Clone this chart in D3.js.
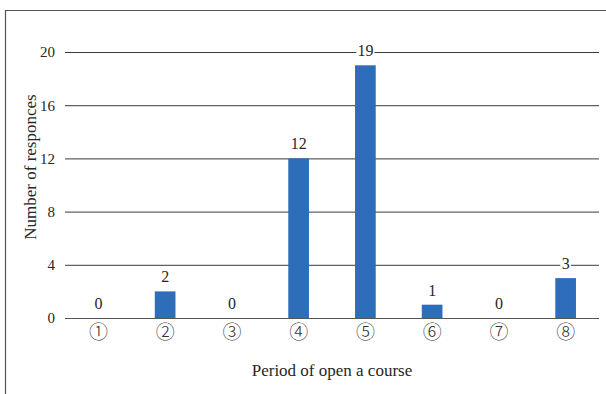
<!DOCTYPE html>
<html>
<head>
<meta charset="utf-8">
<script src="https://cdn.jsdelivr.net/npm/d3@7"></script>
<style>
  html, body { margin: 0; padding: 0; background: #fff; }
  svg { display: block; }
  text { font-family: "Liberation Serif", "Times New Roman", serif; fill: #262626; }
</style>
</head>
<body>
<svg id="chart" width="606" height="394"></svg>
<script>
// Survey: when respondents would open a course
const categories = ["①", "②", "③", "④", "⑤", "⑥", "⑦", "⑧"];
const responses = [0, 2, 0, 12, 19, 1, 0, 3];
const yTicks = [0, 4, 8, 12, 16, 20];
const yTitle = "Number of responces";
const xTitle = "Period of open a course";

const serif = "'Liberation Serif', 'Times New Roman', serif";
const circFont = "'Noto Sans CJK JP', 'DejaVu Sans', sans-serif";

const svg = d3.select("#chart");
const W = 606, H = 394;
const margin = { left: 65, right: 7, top: 52, bottom: 76 };

// outer frame (top and left edges)
svg.append("path")
  .attr("d", `M5.5,${H} V10.5 H${W}`)
  .attr("fill", "none")
  .attr("stroke", "#555")
  .attr("stroke-width", 1.2);

const x = d3.scaleBand()
  .domain(categories)
  .range([margin.left, W - margin.right])
  .paddingInner(0.69)
  .paddingOuter(0.345);

const y = d3.scaleLinear()
  .domain([0, 20])
  .range([H - margin.bottom, margin.top]);

// horizontal gridlines with value labels
const yAxis = d3.axisLeft(y)
  .tickValues(yTicks)
  .tickSize(-(W - margin.right - margin.left))
  .tickPadding(10)
  .tickFormat(d3.format("d"));

const gy = svg.append("g")
  .attr("transform", `translate(${margin.left},0)`)
  .call(yAxis);
gy.select(".domain").remove();
gy.selectAll(".tick line").attr("stroke", "#3a3a3a").attr("stroke-width", 1);
gy.selectAll(".tick text")
  .style("font-family", serif)
  .style("font-size", "15px")
  .style("fill", "#262626");

// bars
svg.append("g").selectAll("rect")
  .data(responses)
  .join("rect")
  .attr("x", (d, i) => x(categories[i]))
  .attr("y", d => y(d))
  .attr("width", x.bandwidth())
  .attr("height", d => y(0) - y(d))
  .attr("fill", "#2E6DB9");

// baseline on top of bars
svg.append("line")
  .attr("x1", margin.left).attr("x2", W - margin.right)
  .attr("y1", y(0) + 0.5).attr("y2", y(0) + 0.5)
  .attr("stroke", "#555").attr("stroke-width", 1.2);

// value labels with white backing so they sit cleanly over gridlines
const labels = svg.append("g").selectAll("g")
  .data(responses)
  .join("g")
  .attr("transform", (d, i) => `translate(${x(categories[i]) + x.bandwidth() / 2},${y(d) - 9})`);
labels.append("rect")
  .attr("x", d => -(String(d).length * 3.8 + 1.5))
  .attr("y", -12)
  .attr("width", d => String(d).length * 7.6 + 3)
  .attr("height", 14)
  .attr("fill", "#fff");
labels.append("text")
  .attr("text-anchor", "middle")
  .style("font-family", serif)
  .style("font-size", "16px")
  .text(d => d);

// category labels
const xAxis = d3.axisBottom(x).tickSize(0).tickPadding(7);
const gx = svg.append("g")
  .attr("transform", `translate(0,${y(0)})`)
  .call(xAxis);
gx.select(".domain").remove();
gx.selectAll(".tick text")
  .style("font-family", circFont)
  .style("font-size", "19px")
  .style("font-weight", "300")
  .style("fill", "#333");

// axis titles
svg.append("text")
  .attr("x", (margin.left + W - margin.right) / 2)
  .attr("y", 376)
  .attr("text-anchor", "middle")
  .style("font-family", serif)
  .style("font-size", "17px")
  .text(xTitle);

svg.append("text")
  .attr("transform", `translate(36,${(y(0) + y(20)) / 2 - 18}) rotate(-90)`)
  .attr("text-anchor", "middle")
  .style("font-family", serif)
  .style("font-size", "17px")
  .text(yTitle);
</script>
</body>
</html>
